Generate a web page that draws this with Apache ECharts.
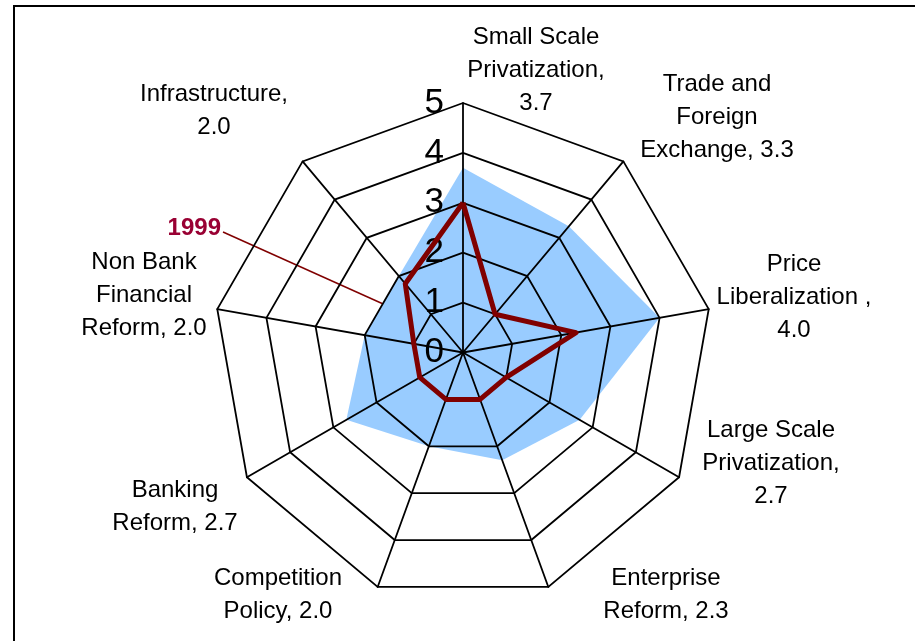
<!DOCTYPE html>
<html>
<head>
<meta charset="utf-8">
<script src="https://cdn.jsdelivr.net/npm/echarts@6/dist/echarts.min.js"></script>
<style>
    html, body {margin: 0; padding: 0; background: #fff;}
    #chart {width: 915px; height: 641px;}
</style>
</head>
<body>
<div id="chart"></div>
<script>
// categories, clockwise from the top
const categories = ['Small Scale Privatization', 'Trade and Foreign Exchange', 'Price Liberalization',
    'Large Scale Privatization', 'Enterprise Reform', 'Competition Policy', 'Banking Reform',
    'Non Bank Financial Reform', 'Infrastructure']
const current = [3.7, 3.3, 4.0, 2.7, 2.3, 2.0, 2.7, 2.0, 2.0]
const year1999 = [3.0, 1.0, 2.3, 1.0, 1.0, 1.0, 1.0, 1.0, 1.8]
const scaleMax = 5

// data labels as they are broken in the picture
const labelTexts = ['Small Scale\nPrivatization,\n3.7', 'Trade and\nForeign\nExchange, 3.3', 'Price\nLiberalization ,\n4.0',
    'Large Scale\nPrivatization,\n2.7', 'Enterprise\nReform, 2.3', 'Competition\nPolicy, 2.0', 'Banking\nReform, 2.7',
    'Non Bank\nFinancial\nReform, 2.0', 'Infrastructure,\n2.0']
const labelPos = [[536, 70], [717, 117], [794, 297], [771, 463], [666, 595], [278, 595], [175, 507], [144, 295], [214, 111]]

// echarts radar goes counter-clockwise, so reorder
const order = [0, 8, 7, 6, 5, 4, 3, 2, 1]
const reorder = (arr) => order.map(i => arr[i])

const initialRadar = () => {
    const chart = echarts.init(document.getElementById('chart'))

    const indicator = reorder(categories).map((name, i) => {
        const item = {name: name, min: 0, max: scaleMax}
        if (i === 0) {
            item.axisLabel = {show: true}  // scale numbers only on the top axis
        }
        return item
    })

    const graphics = labelTexts.map((t, i) => ({
        type: 'text',
        x: labelPos[i][0],
        y: labelPos[i][1],
        style: {
            text: t,
            align: 'center',
            verticalAlign: 'middle',
            font: '24px "Liberation Sans", Arial, sans-serif',
            lineHeight: 33,
            fill: '#000'
        }
    }))
    // frame
    graphics.push({
        type: 'rect',
        shape: {x: 14, y: 6, width: 920, height: 660},
        style: {fill: null, stroke: '#000', lineWidth: 2}
    })
    // 1999 callout
    graphics.push({
        type: 'text',
        x: 221, y: 228,
        style: {
            text: '1999',
            align: 'right',
            verticalAlign: 'middle',
            font: 'bold 24px "Liberation Sans", Arial, sans-serif',
            fill: '#990033'
        }
    })
    graphics.push({
        type: 'line',
        shape: {x1: 223, y1: 232, x2: 401, y2: 312},
        style: {stroke: '#800000', lineWidth: 1.5}
    })

    const option = {
        animation: false,
        textStyle: {fontFamily: '"Liberation Sans", Arial, sans-serif'},
        radar: {
            center: [463, 352.5],
            radius: 249.5,
            startAngle: 90,
            shape: 'polygon',
            splitNumber: 5,
            z: 2,
            indicator: indicator,
            axisName: {show: false},
            splitArea: {show: false},
            splitLine: {lineStyle: {color: '#000', width: 1.8}},
            axisLine: {lineStyle: {color: '#000', width: 1.8}},
            axisTick: {show: false},
            axisLabel: {
                show: false,
                color: '#000',
                fontSize: 35,
                margin: 19
            }
        },
        series: [
            {
                type: 'radar',
                z: 1,
                symbol: 'none',
                lineStyle: {width: 0, color: '#99ccff'},
                areaStyle: {color: '#99ccff', opacity: 1},
                data: [{name: 'current', value: reorder(current)}]
            },
            {
                type: 'radar',
                z: 3,
                symbol: 'none',
                lineStyle: {width: 5, color: '#800000'},
                data: [{name: '1999', value: reorder(year1999)}]
            }
        ],
        graphic: graphics
    }
    chart.setOption(option)
}

initialRadar()
</script>
</body>
</html>
